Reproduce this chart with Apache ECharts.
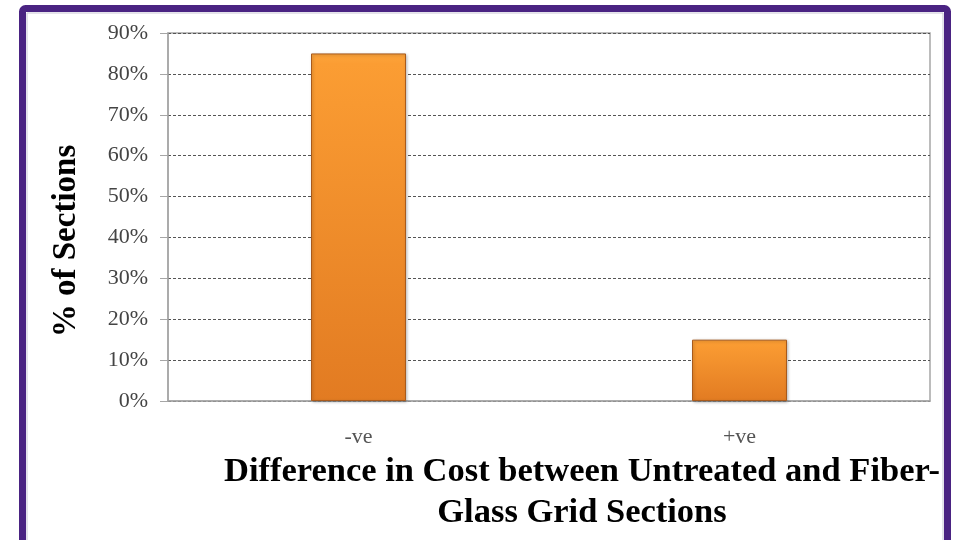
<!DOCTYPE html>
<html>
<head>
<meta charset="utf-8">
<script src="https://cdn.jsdelivr.net/npm/echarts@6/dist/echarts.min.js"></script>
<style>
  html, body { margin: 0; padding: 0; background: #ffffff; }
  #chart { width: 955px; height: 540px; }
</style>
</head>
<body>
<div id="chart"></div>
<script>
// Share of sections by sign of the cost difference
const categories = ['-ve', '+ve'];
const shareValues = [85, 15];
const yTicks = { min: 0, max: 90, interval: 10 };

const serif = '"Liberation Serif", "Times New Roman", serif';

const chart = echarts.init(document.getElementById('chart'));

chart.setOption({
  backgroundColor: '#ffffff',
  animation: false,
  grid: {
    left: 168, right: 25, top: 33, bottom: 139,
    show: true, borderColor: '#a6a6a6', borderWidth: 1.5, backgroundColor: 'transparent'
  },
  xAxis: {
    type: 'category',
    data: categories,
    axisLine: { lineStyle: { color: '#a6a6a6', width: 1.5 } },
    axisTick: { show: false },
    axisLabel: { color: '#555555', fontFamily: serif, fontSize: 22, margin: 25 }
  },
  yAxis: {
    type: 'value',
    min: yTicks.min, max: yTicks.max, interval: yTicks.interval,
    axisLine: { show: true, lineStyle: { color: '#a6a6a6', width: 1.5 } },
    axisTick: { show: true, length: 8, lineStyle: { color: '#a6a6a6' } },
    axisLabel: {
      color: '#444444', fontFamily: serif, fontSize: 22, margin: 20,
      formatter: v => v + '%'
    },
    splitLine: {
      show: true,
      lineStyle: { color: '#555555', type: [3, 2], width: 1 }
    }
  },
  series: [{
    type: 'bar',
    data: shareValues,
    barWidth: 95,
    itemStyle: {
      color: new echarts.graphic.LinearGradient(0, 0, 0, 1, [
        { offset: 0, color: '#fca43c' },
        { offset: 0.03, color: '#fb9d33' },
        { offset: 1, color: '#e27b22' }
      ]),
      borderColor: '#a85a1c',
      borderWidth: 1,
      shadowColor: 'rgba(0,0,0,0.25)',
      shadowBlur: 3,
      shadowOffsetX: 1,
      shadowOffsetY: 1
    }
  }],
  graphic: [
    {
      type: 'rect', silent: true, z: 100,
      shape: { x: 22.5, y: 8.5, width: 925, height: 560, r: 3 },
      style: { fill: 'none', stroke: '#4a2382', lineWidth: 7 }
    },
    {
      type: 'rect', silent: true, z: 101,
      shape: { x: 27, y: 13, width: 916, height: 560 },
      style: { fill: 'none', stroke: '#c9c6d6', lineWidth: 1 }
    },
    {
      type: 'text', z: 50,
      x: 66, y: 241, rotation: Math.PI / 2,
      style: {
        text: '% of Sections', fill: '#000000',
        font: 'bold 33px ' + serif, align: 'center', verticalAlign: 'middle'
      }
    },
    {
      type: 'text', z: 50,
      x: 582, y: 472,
      style: {
        text: 'Difference in Cost between Untreated and Fiber-', fill: '#000000',
        font: 'bold 34.5px ' + serif, align: 'center', verticalAlign: 'middle'
      }
    },
    {
      type: 'text', z: 50,
      x: 582, y: 513,
      style: {
        text: 'Glass Grid Sections', fill: '#000000',
        font: 'bold 34.5px ' + serif, align: 'center', verticalAlign: 'middle'
      }
    }
  ]
});
</script>
</body>
</html>
